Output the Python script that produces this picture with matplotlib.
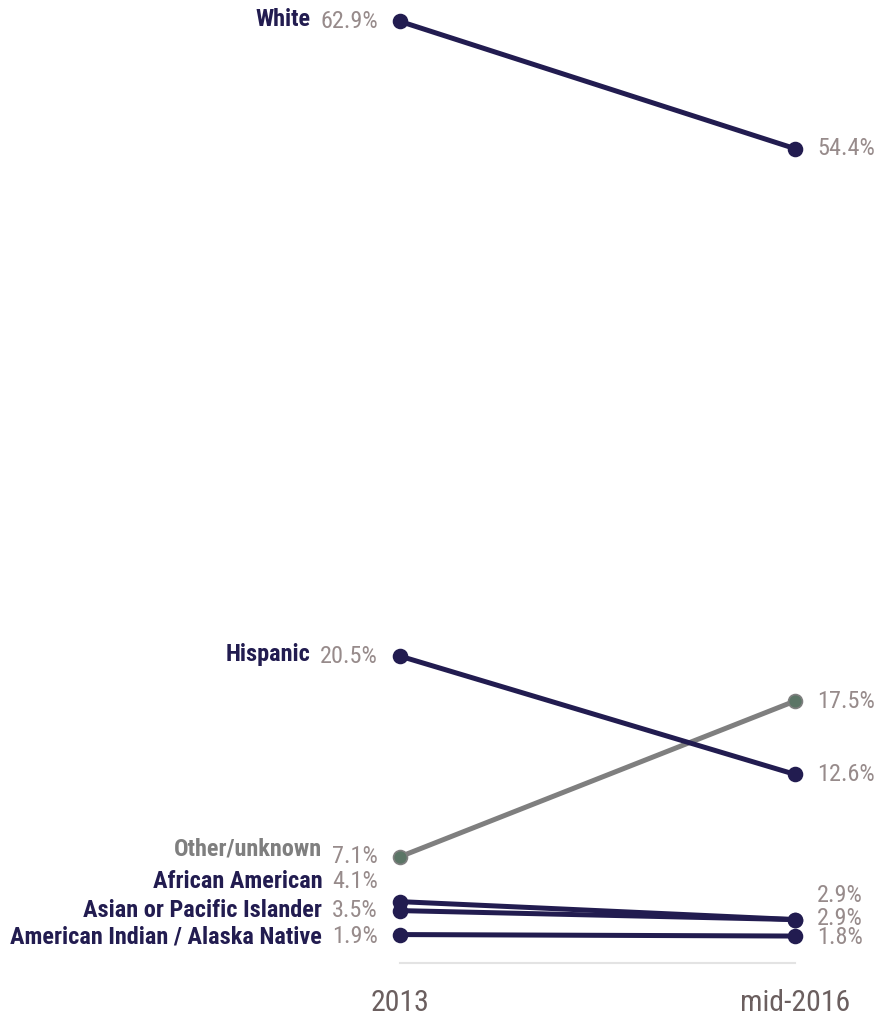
import matplotlib
matplotlib.use("Agg")
import matplotlib.pyplot as plt

# Share of population by race/ethnicity, 2013 vs mid-2016
periods = ["2013", "mid-2016"]
groups = ["White", "Hispanic", "Other/unknown", "African American",
          "Asian or Pacific Islander", "American Indian / Alaska Native"]
share_2013 = [62.9, 20.5, 7.1, 4.1, 3.5, 1.9]
share_2016 = [54.4, 12.6, 17.5, 2.9, 2.9, 1.8]

NAVY = "#221c50"
GREY_LINE = "#7f7f7f"
GREY_DOT = "#5b7566"
VALUE_C = "#978b8b"
TICK_C = "#6b5f5f"
FONT = ["Roboto Condensed", "Liberation Sans Narrow", "Roboto", "DejaVu Sans"]

# label nudges (pixels) to keep crowded labels apart: (left dy, right dy, name dy)
nudge = {
    "White": (0, 0, 2),
    "Hispanic": (0, 0, 2),
    "Other/unknown": (0, 0, 8),
    "African American": (20, 24, 0),
    "Asian or Pacific Islander": (0, 1, 0),
    "American Indian / Alaska Native": (-2, -1, 0),
}

fig = plt.figure(figsize=(8.78, 10.17), dpi=100)
ax = fig.add_axes([0, 0, 1, 1])
ax.set_xlim(-400 / 395, -400 / 395 + 878 / 395)
px_per = 14.97
ax.set_ylim(-54 / px_per, -54 / px_per + 1017 / px_per)
ax.axis("off")

# baseline
ax.plot([0, 1], [0, 0], color="#e3e3e3", lw=1.5, zorder=1)

order = [2, 0, 1, 3, 4, 5]
for i in order:
    g = groups[i]
    is_other = g == "Other/unknown"
    lc = GREY_LINE if is_other else NAVY
    mc = GREY_DOT if is_other else NAVY
    ax.plot([0, 1], [share_2013[i], share_2016[i]], color=lc, lw=3.6,
            solid_capstyle="round", zorder=2)
    ax.plot([0, 1], [share_2013[i], share_2016[i]], ls="none", marker="o",
            ms=10, mfc=mc, mec=GREY_LINE if is_other else NAVY, mew=1.2,
            zorder=3)

    ldy, rdy, ndy = nudge[g]
    val = ax.annotate(f"{share_2013[i]:.1f}%", xy=(0, share_2013[i]),
                      xytext=(-16, ldy * 0.72), textcoords="offset points",
                      ha="right", va="center", fontsize=17.5, color=VALUE_C,
                      family=FONT)
    ax.annotate(g, xy=(0, 0.5), xycoords=val, xytext=(-7, ndy * 0.72),
                textcoords="offset points", ha="right", va="center",
                fontsize=17.5, fontweight="bold",
                color=GREY_LINE if is_other else NAVY, family=FONT)
    ax.annotate(f"{share_2016[i]:.1f}%", xy=(1, share_2016[i]),
                xytext=(16, rdy * 0.72), textcoords="offset points",
                ha="left", va="center", fontsize=17.5, color=VALUE_C,
                family=FONT)

for x, p in enumerate(periods):
    ax.annotate(p, xy=(x, 0), xytext=(0, -29), textcoords="offset points",
                ha="center", va="center", fontsize=21.5, color=TICK_C,
                family=FONT)

fig.savefig("out.png", dpi=100)
